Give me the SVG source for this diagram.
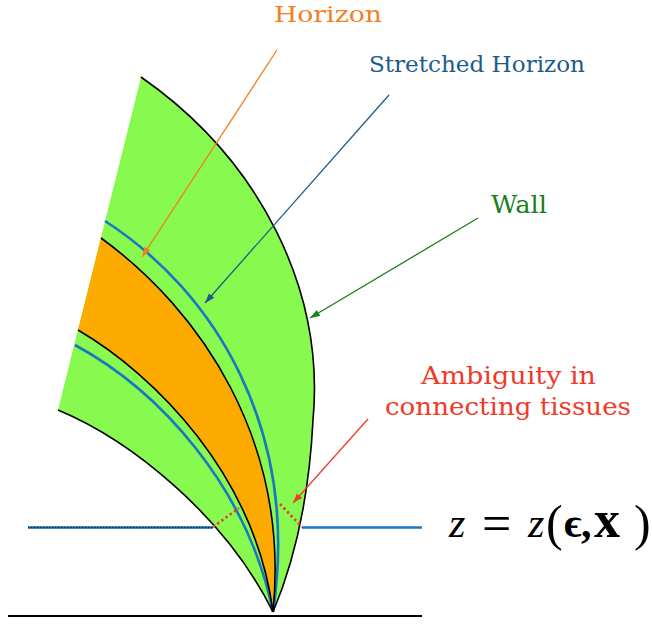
<svg xmlns="http://www.w3.org/2000/svg" width="652" height="624" viewBox="0 0 652 624">
<style>
.lbl{font-family:"DejaVu Serif","Liberation Serif",serif;}
.bd{fill:none;stroke:#000;stroke-width:1.6;}
.bl{fill:none;stroke:#1a77c0;stroke-width:2.6;}
.arw{fill:none;stroke-width:1.3;}
.math{font-family:"Liberation Serif","DejaVu Serif",serif;font-size:42px;fill:#000;}
</style>
<defs>
<marker id="mO" markerWidth="11" markerHeight="8" refX="10" refY="3.5" orient="auto" markerUnits="userSpaceOnUse"><path d="M0,0 L10,3.5 L0,7 z" fill="#f57f20"/></marker>
<marker id="mB" markerWidth="11" markerHeight="8" refX="10" refY="3.5" orient="auto" markerUnits="userSpaceOnUse"><path d="M0,0 L10,3.5 L0,7 z" fill="#1c5b8a"/></marker>
<marker id="mG" markerWidth="11" markerHeight="8" refX="10" refY="3.5" orient="auto" markerUnits="userSpaceOnUse"><path d="M0,0 L10,3.5 L0,7 z" fill="#1b7f1b"/></marker>
<marker id="mR" markerWidth="11" markerHeight="8" refX="10" refY="3.5" orient="auto" markerUnits="userSpaceOnUse"><path d="M0,0 L10,3.5 L0,7 z" fill="#f03a2a"/></marker>
</defs>

<g id="wall-region">
<path d="M141,77 C260,160 325,290 313,420 C309,500 295,560 273,612 C225,515 130,440 58,410 Z" fill="#88f94e"/>
</g>
<g id="horizon-band">
<path d="M101,238 C200,310 290,440 273,612 C255,475 155,375 78,330 Z" fill="#fdab00"/>
</g>
<g id="stretched-horizons">
<path class="bl" d="M105,221 C215,292 300,430 273,612"/>
<path class="bl" d="M75,345 C158,390 247,485 273,612"/>
</g>
<g id="boundaries">
<path class="bd" d="M141,77 C260,160 325,290 313,420 C309,500 295,560 273,612"/>
<path class="bd" d="M58,410 C130,440 225,515 273,612"/>
<path class="bd" d="M101,238 C200,310 290,440 273,612"/>
<path class="bd" d="M78,330 C155,375 255,475 273,612"/>
</g>
<g id="tissues">
<line x1="213" y1="527" x2="239" y2="508" stroke="#f03a2a" stroke-width="2.6" stroke-dasharray="2.4,2.8"/>
<line x1="280" y1="504" x2="302" y2="527" stroke="#f03a2a" stroke-width="2.6" stroke-dasharray="2.4,2.8"/>
</g>
<g id="slice">
<line x1="302" y1="527.5" x2="422" y2="527.5" stroke="#1a77c0" stroke-width="2.4"/>
<line x1="28" y1="527.5" x2="213" y2="527.5" stroke="#1a77c0" stroke-width="2.6"/>
<line x1="28" y1="527.5" x2="213" y2="527.5" stroke="#0b2a4a" stroke-width="1.4" stroke-dasharray="1.5,1.5"/>
</g>
<g id="ground">
<line x1="8" y1="616" x2="422" y2="616" stroke="#000" stroke-width="1.8"/>
</g>

<g id="connectors">
<line class="arw" x1="277" y1="50" x2="142" y2="257" stroke="#f57f20" marker-end="url(#mO)"/>
<line class="arw" x1="389" y1="95" x2="205" y2="303" stroke="#1c5b8a" marker-end="url(#mB)"/>
<line class="arw" x1="478" y1="218" x2="310" y2="318" stroke="#1b7f1b" marker-end="url(#mG)"/>
<line class="arw" x1="368" y1="419" x2="293" y2="503" stroke="#f03a2a" marker-end="url(#mR)"/>
</g>

<g id="label-horizon"><text class="lbl" x="274" y="22" font-size="23" fill="#f57f20" textLength="108" lengthAdjust="spacingAndGlyphs">Horizon</text></g>
<g id="label-stretched"><text class="lbl" x="369" y="72" font-size="22" fill="#1c5b8a" textLength="216" lengthAdjust="spacingAndGlyphs">Stretched Horizon</text></g>
<g id="label-wall"><text class="lbl" x="491" y="213" font-size="25" fill="#1b7f1b" textLength="56" lengthAdjust="spacingAndGlyphs">Wall</text></g>
<g id="label-ambiguity">
<text class="lbl" x="421" y="384" font-size="25" fill="#f03a2a" textLength="175" lengthAdjust="spacingAndGlyphs">Ambiguity in</text>
<text class="lbl" x="385" y="415" font-size="25" fill="#f03a2a" textLength="246" lengthAdjust="spacingAndGlyphs">connecting tissues</text>
</g>
<g id="label-math">
<text class="math"><tspan x="449" y="537" font-style="italic">z</tspan><tspan x="482" y="541" font-size="52">=</tspan><tspan x="528" y="537" font-style="italic">z</tspan><tspan x="546" y="540" font-size="50">(</tspan><tspan x="564" y="537" font-weight="bold">ϵ</tspan><tspan x="581" y="537" font-weight="bold">,</tspan><tspan x="594" y="537" font-weight="bold" font-size="52">x</tspan><tspan x="634" y="540" font-size="50">)</tspan></text>
</g>
</svg>
